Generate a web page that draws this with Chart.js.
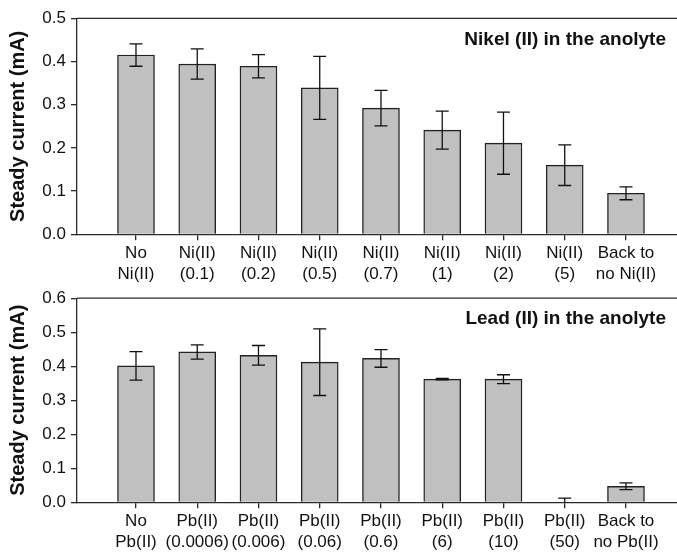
<!DOCTYPE html>
<html>
<head>
<meta charset="utf-8">
<script src="https://cdn.jsdelivr.net/npm/chart.js@4/dist/chart.umd.min.js"></script>
<style>
  body { margin: 0; background: #fff; }
  #wrap { position: relative; width: 677px; height: 553px; }
  canvas { position: absolute; left: 0; }
</style>
</head>
<body>
<div id="wrap">
  <canvas id="nickel" width="677" height="283" style="top:0"></canvas>
  <canvas id="lead" width="677" height="270" style="top:283px"></canvas>
</div>
<script>
// Nickel panel
const nickelLabels = [
    ['No', 'Ni(II)'], ['Ni(II)', '(0.1)'], ['Ni(II)', '(0.2)'], ['Ni(II)', '(0.5)'],
    ['Ni(II)', '(0.7)'], ['Ni(II)', '(1)'], ['Ni(II)', '(2)'], ['Ni(II)', '(5)'],
    ['Back to', 'no Ni(II)']
];
const nickelCurrent = [0.415, 0.394, 0.389, 0.339, 0.292, 0.241, 0.211, 0.160, 0.095];
const nickelError = [0.026, 0.035, 0.027, 0.073, 0.041, 0.044, 0.072, 0.047, 0.015];

// Lead panel
const leadLabels = [
    ['No', 'Pb(II)'], ['Pb(II)', '(0.0006)'], ['Pb(II)', '(0.006)'], ['Pb(II)', '(0.06)'],
    ['Pb(II)', '(0.6)'], ['Pb(II)', '(6)'], ['Pb(II)', '(10)'], ['Pb(II)', '(50)'],
    ['Back to', 'no Pb(II)']
];
const leadCurrent = [0.401, 0.442, 0.432, 0.412, 0.423, 0.362, 0.362, 0, 0.047];
const leadError = [0.042, 0.021, 0.029, 0.098, 0.026, 0.002, 0.013, 0.012, 0.010];

const yTitle = 'Steady current (mA)';
const INK = '#2b2b2b';
const FONT = "'Liberation Sans', Arial, sans-serif";

// error bars + frame top + panel caption
const panelExtras = {
    id: 'panelExtras',
    afterDatasetsDraw(chart, args, opts) {
        const ctx = chart.ctx;
        const y = chart.scales.y;
        const area = chart.chartArea;
        const meta = chart.getDatasetMeta(0);
        ctx.save();
        ctx.beginPath();
        ctx.rect(area.left, area.top - 2, area.right - area.left, area.bottom - area.top + 2);
        ctx.clip();
        ctx.strokeStyle = '#111';
        ctx.lineWidth = 1.3;
        meta.data.forEach((bar, i) => {
            const v = opts.values[i], e = opts.errors[i];
            const hi = y.getPixelForValue(v + e);
            const lo = y.getPixelForValue(v - e);
            const cap = 6.5;
            ctx.beginPath();
            ctx.moveTo(bar.x, hi); ctx.lineTo(bar.x, lo);
            ctx.moveTo(bar.x - cap, hi); ctx.lineTo(bar.x + cap, hi);
            ctx.moveTo(bar.x - cap, lo); ctx.lineTo(bar.x + cap, lo);
            ctx.stroke();
        });
        ctx.restore();

        ctx.save();
        ctx.strokeStyle = INK;
        ctx.lineWidth = 1.3;
        ctx.beginPath();
        ctx.moveTo(area.left, area.top);
        ctx.lineTo(chart.width, area.top);
        ctx.stroke();
        ctx.fillStyle = '#111';
        ctx.font = 'bold 19px ' + FONT;
        ctx.textAlign = 'right';
        ctx.textBaseline = 'middle';
        ctx.fillText(opts.caption, area.right - 11, area.top + 21);
        ctx.restore();
    }
};

function makePanel(id, labels, values, errors, yMax, caption, topPad, xHeight) {
    return new Chart(document.getElementById(id), {
        type: 'bar',
        data: {
            datasets: [{
                data: values.map((v, i) => ({ x: i, y: v })),
                backgroundColor: '#c0c0c0',
                borderColor: '#222',
                borderWidth: 1.4,
                borderSkipped: 'bottom',
                barThickness: 37
            }]
        },
        options: {
            responsive: false,
            animation: false,
            devicePixelRatio: 1,
            layout: { padding: { top: topPad, right: 0, left: 0, bottom: 0 } },
            plugins: {
                legend: { display: false },
                tooltip: { enabled: false },
                panelExtras: { values: values, errors: errors, caption: caption }
            },
            scales: {
                x: {
                    type: 'linear',
                    offset: false,
                    min: -0.963,
                    max: 8.833,
                    afterBuildTicks: s => { s.ticks = labels.map((_, i) => ({ value: i })); },
                    afterFit: s => { s.height = xHeight; },
                    grid: { offset: false, drawOnChartArea: false, drawTicks: true, tickLength: 6, color: INK, lineWidth: 1.3 },
                    border: { display: true, color: INK, width: 1.3 },
                    ticks: {
                        autoSkip: false, maxRotation: 0, padding: 3,
                        color: '#111',
                        font: { family: FONT, size: 17, lineHeight: 1.22 },
                        callback: v => labels[v]
                    }
                },
                y: {
                    min: 0,
                    max: yMax,
                    afterFit: s => { s.width = 77; },
                    grid: { drawOnChartArea: false, drawTicks: true, tickLength: 6, color: INK, lineWidth: 1.3 },
                    border: { display: true, color: INK, width: 1.3 },
                    ticks: {
                        stepSize: 0.1, padding: 5, color: '#111',
                        font: { family: FONT, size: 17 },
                        callback: v => v.toFixed(1)
                    },
                    title: {
                        display: true, text: yTitle, color: '#111',
                        font: { family: FONT, size: 20, weight: 'bold', lineHeight: 1.2 },
                        padding: { top: 6, bottom: 0 }
                    }
                }
            }
        },
        plugins: [panelExtras]
    });
}

makePanel('nickel', nickelLabels, nickelCurrent, nickelError, 0.5, 'Nikel (II) in the anolyte', 18.3, 48.7);
makePanel('lead', leadLabels, leadCurrent, leadError, 0.6, 'Lead (II) in the anolyte', 8.7, 50.7);
</script>
</body>
</html>
